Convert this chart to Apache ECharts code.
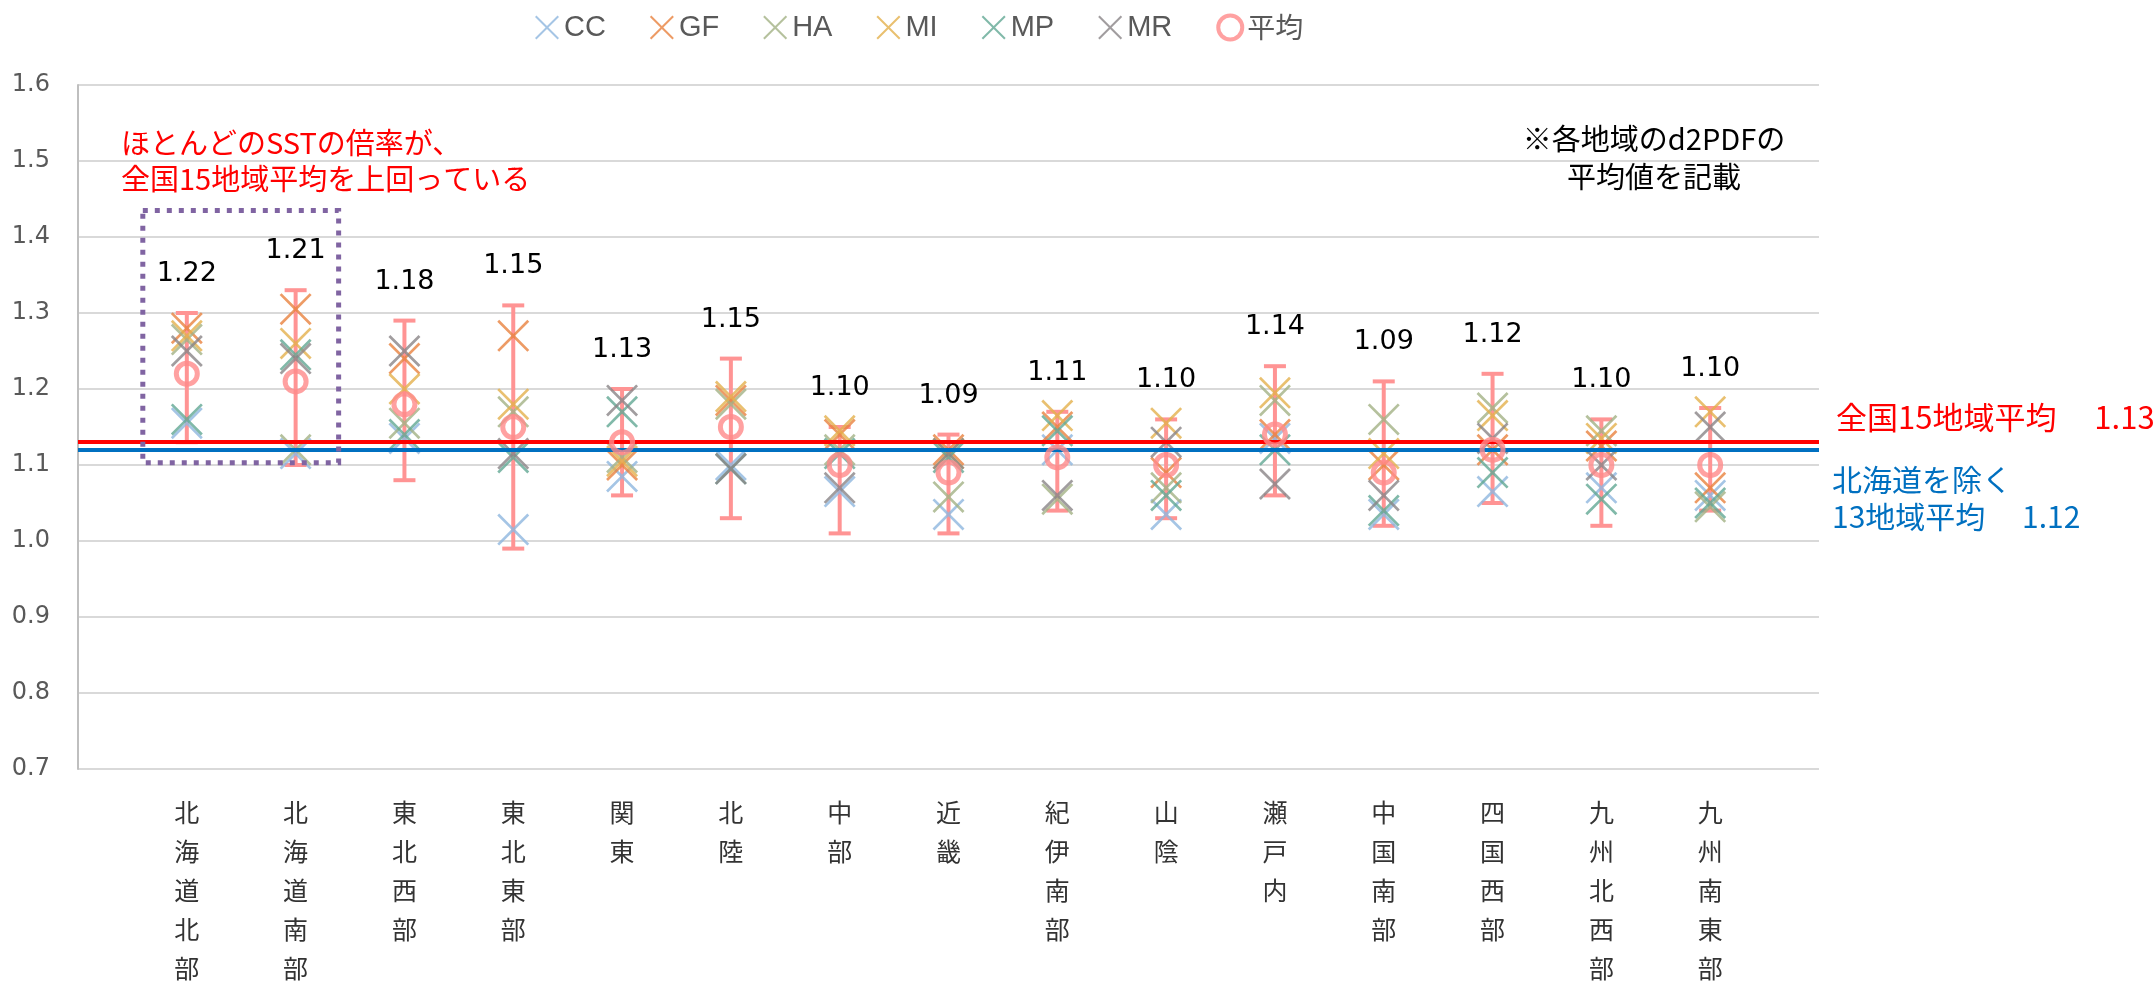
<!DOCTYPE html>
<html><head><meta charset="utf-8">
<script src="https://cdn.jsdelivr.net/npm/echarts@6/dist/echarts.min.js"></script>
<style>html,body{margin:0;padding:0;background:#fff;}#c{width:2156px;height:993px;}</style>
</head><body><div id="c"></div>
<script>
const categories = ['北海道北部','北海道南部','東北西部','東北東部','関東','北陸','中部','近畿','紀伊南部','山陰','瀬戸内','中国南部','四国西部','九州北西部','九州南東部'];
const CC = [1.155, 1.115, 1.135, 1.015, 1.085, 1.10, 1.065, 1.035, 1.12, 1.035, 1.135, 1.035, 1.065, 1.07, 1.06];
const GF = [1.28, 1.305, 1.24, 1.27, 1.10, 1.185, 1.14, 1.12, 1.15, 1.09, 1.14, 1.10, 1.12, 1.125, 1.07];
const HA = [1.265, 1.12, 1.155, 1.17, 1.11, 1.18, 1.12, 1.058, 1.055, 1.07, 1.185, 1.16, 1.175, 1.145, 1.045];
const MI = [1.27, 1.26, 1.20, 1.18, 1.105, 1.19, 1.145, 1.115, 1.165, 1.155, 1.195, 1.115, 1.165, 1.135, 1.17];
const MP = [1.16, 1.245, 1.14, 1.11, 1.17, 1.095, 1.115, 1.11, 1.145, 1.06, 1.12, 1.04, 1.09, 1.055, 1.05];
const MR = [1.25, 1.24, 1.25, 1.115, 1.185, 1.095, 1.07, 1.115, 1.06, 1.13, 1.075, 1.06, 1.135, 1.10, 1.15];
const meanValues = [1.22, 1.21, 1.18, 1.15, 1.13, 1.15, 1.10, 1.09, 1.11, 1.10, 1.14, 1.09, 1.12, 1.10, 1.10];
const errHigh = [1.30, 1.33, 1.29, 1.31, 1.20, 1.24, 1.15, 1.14, 1.17, 1.16, 1.23, 1.21, 1.22, 1.16, 1.175];
const errLow  = [1.13, 1.10, 1.08, 0.99, 1.06, 1.03, 1.01, 1.01, 1.04, 1.03, 1.06, 1.02, 1.05, 1.02, 1.04];
const yMin = 0.7, yMax = 1.6, yStep = 0.1;
const avg15 = 1.13;
const avg13 = 1.116;

const models = [
  {name:'CC', data:CC, color:'#8FB6DF'},
  {name:'GF', data:GF, color:'#E9823F'},
  {name:'HA', data:HA, color:'#A3B185'},
  {name:'MI', data:MI, color:'#E3B04C'},
  {name:'MP', data:MP, color:'#62A893'},
  {name:'MR', data:MR, color:'#8A8487'}
];
const X_PATH = 'path://M0,6L6,0L50,44L94,0L100,6L56,50L100,94L94,100L50,56L6,100L0,94L44,50Z';
const PINK = '#FF9494';
const JP = '"Noto Sans CJK JP","Noto Sans",sans-serif';

const chart = echarts.init(document.getElementById('c'));
const series = [];
series.push({
  type:'custom', name:'err', z:2,
  data: categories.map((c,i)=>[i+1, errLow[i], errHigh[i], meanValues[i]]),
  renderItem(params, api){
    const x = api.value(0);
    const lo = api.coord([x, api.value(1)]);
    const hi = api.coord([x, api.value(2)]);
    const cap = 11;
    const st = {stroke:PINK, lineWidth:4};
    return {type:'group', children:[
      {type:'line', shape:{x1:lo[0],y1:lo[1],x2:hi[0],y2:hi[1]}, style:st},
      {type:'line', shape:{x1:lo[0]-cap,y1:lo[1],x2:lo[0]+cap,y2:lo[1]}, style:st},
      {type:'line', shape:{x1:hi[0]-cap,y1:hi[1],x2:hi[0]+cap,y2:hi[1]}, style:st},
      {type:'text', x:hi[0], y:hi[1]-39, style:{text:api.value(3).toFixed(2), fill:'#000', fontSize:27, fontFamily:'"DejaVu Sans",Verdana,sans-serif', align:'center', verticalAlign:'middle'}}
    ]};
  }
});
models.forEach(m=>{
  series.push({
    type:'scatter', name:m.name, z:3,
    symbol:X_PATH, symbolSize:32,
    itemStyle:{color:m.color, opacity:0.8},
    data: m.data.map((v,i)=>[i+1, v])
  });
});
series.push({
  type:'scatter', name:'平均', z:5,
  symbol:'circle', symbolSize:21,
  itemStyle:{color:'rgba(255,255,255,0)', borderColor:'#FF8A8A', borderWidth:5},
  data: meanValues.map((v,i)=>[i+1, v])
});
series.push({
  type:'line', name:'refs', z:10, data:[],
  markLine:{
    silent:true, symbol:'none', label:{show:false},
    data:[
      {yAxis:avg15, lineStyle:{color:'#FF0000', width:4, type:'solid'}},
      {yAxis:avg13, lineStyle:{color:'#0070C0', width:4, type:'solid'}}
    ]
  }
});

chart.setOption({
  animation:false,
  backgroundColor:'#fff',
  grid:{left:78, right:337, top:85, bottom:224, containLabel:false},
  legend:{
    left:530, top:8, itemWidth:24, itemHeight:24, itemGap:44,
    textStyle:{fontSize:29, color:'#595959', fontFamily:'"Liberation Sans",Arial,sans-serif'},
    data:[
      ...models.map(m=>({name:m.name, icon:X_PATH})),
      {name:'平均', icon:'circle', itemStyle:{color:'rgba(255,255,255,0)', borderColor:'#FF8A8A', borderWidth:4}, textStyle:{fontFamily:JP, fontSize:28}}
    ]
  },
  xAxis:{
    type:'category', boundaryGap:false,
    data:['', ...categories, ''],
    axisLine:{show:false}, axisTick:{show:false}, splitLine:{show:false},
    axisLabel:{interval:0, margin:24, fontSize:25, lineHeight:39, color:'#333333', fontFamily:JP, verticalAlign:'top',
      formatter:s=>s.split('').join('\n')}
  },
  yAxis:{
    type:'value', min:yMin, max:yMax, interval:yStep,
    axisLine:{show:true, lineStyle:{color:'#BFBFBF', width:2}},
    axisTick:{show:false},
    splitLine:{show:true, lineStyle:{color:'#D9D9D9', width:2}},
    axisLabel:{fontSize:24, color:'#595959', margin:28, fontFamily:'"DejaVu Sans",Verdana,sans-serif', formatter:v=>v.toFixed(1)}
  },
  series
});

const p1 = chart.convertToPixel({xAxisIndex:0, yAxisIndex:0}, [1, 1.435]);
const p2 = chart.convertToPixel({xAxisIndex:0, yAxisIndex:0}, [2, 1.103]);
chart.setOption({
  graphic:[
    {type:'rect', z:20, shape:{x:p1[0]-44, y:p1[1], width:(p2[0]+43)-(p1[0]-44), height:p2[1]-p1[1]},
      style:{fill:'none', stroke:'#8064A2', lineWidth:5, lineDash:[5,7]}},
    {type:'text', z:20, x:121, y:125, style:{text:'ほとんどのSSTの倍率が、\n全国15地域平均を上回っている', fill:'#FF0000', fontSize:29, lineHeight:36, fontFamily:JP, verticalAlign:'top'}},
    {type:'text', z:20, x:1654, y:120, style:{text:'※各地域のd2PDFの\n平均値を記載', fill:'#000', fontSize:29, lineHeight:38, fontFamily:JP, align:'center', verticalAlign:'top'}},
    {type:'text', z:20, x:1836, y:417, style:{text:'全国15地域平均\u3000 1.13', fill:'#FF0000', fontSize:31, fontFamily:JP, verticalAlign:'middle'}},
    {type:'text', z:20, x:1832, y:461, style:{text:'北海道を除く\n13地域平均\u3000 1.12', fill:'#0070C0', fontSize:30, lineHeight:37, fontFamily:JP, verticalAlign:'top'}}
  ]
});
</script></body></html>
